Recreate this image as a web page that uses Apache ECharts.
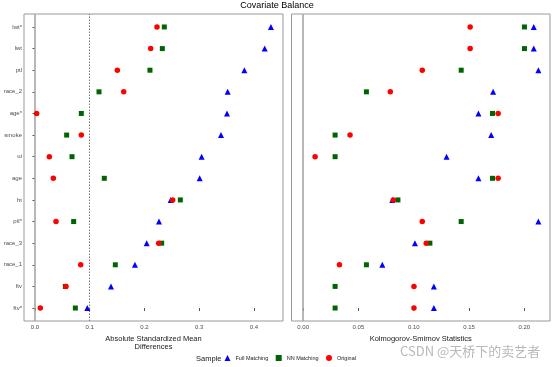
<!DOCTYPE html>
<html><head><meta charset="utf-8">
<script src="https://cdn.jsdelivr.net/npm/echarts@6/dist/echarts.min.js"></script>
<style>html,body{margin:0;padding:0;background:#fff}#c{width:554px;height:367px}</style>
</head><body><div id="c"></div>
<script>
// categories, top to bottom
const categories = ["lwt*","lwt","ptl","race_2","age*","smoke","ui","age","ht","ptl*","race_3","race_1","ftv","ftv*"];
// Absolute Standardized Mean Differences
const smdFull = [0.431,0.4195,0.3824,0.352,0.3507,0.3397,0.3044,0.3008,0.2478,0.2265,0.204,0.1826,0.1388,0.0956];
const smdNN   = [0.2362,0.2326,0.210,0.1169,0.0846,0.0578,0.0676,0.1266,0.2655,0.0706,0.2314,0.1467,0.0554,0.0737];
const smdOrig = [0.2228,0.2113,0.1504,0.162,0.003,0.0846,0.0262,0.0335,0.2515,0.0384,0.2259,0.0834,0.0566,0.0097];
// Kolmogorov-Smirnov statistics
const ksFull = [0.2085,0.2085,0.2127,0.1718,0.1585,0.170,0.1297,0.1585,0.0806,0.2127,0.1011,0.0716,0.1182,0.1182];
const ksNN   = [0.2001,0.2001,0.1429,0.0572,0.1712,0.0289,0.0289,0.1712,0.0857,0.1429,0.1146,0.0572,0.0289,0.0289];
const ksOrig = [0.151,0.151,0.1077,0.0788,0.1763,0.0424,0.0108,0.1763,0.0815,0.1077,0.1113,0.0328,0.1002,0.1002];
const smdTicks = [0, 0.1, 0.2, 0.3, 0.4];
const ksTicks = [0, 0.05, 0.10, 0.15, 0.20];
const seriesNames = ["Full Matching","NN Matching","Original"];

const n = categories.length;
const pos = categories.map((c,i)=>n-1-i);
const toPts = arr => arr.map((v,i)=>[v,pos[i]]);

const chart = echarts.init(document.getElementById('c'));
const gray = '#4d4d4d';
function xAx(idx,min,max,ticks,dec,name){
  return {type:'value',gridIndex:idx,min:min,max:max,
    axisLine:{show:false},splitLine:{show:false},
    axisTick:{show:true,customValues:ticks,length:3,lineStyle:{color:'#555',width:1}},
    axisLabel:{customValues:ticks,formatter:v=>v.toFixed(dec),fontSize:6,color:gray,margin:3,fontFamily:'Liberation Sans'},
    name:name,nameLocation:'middle',nameGap:9,
    nameTextStyle:{fontSize:7.5,color:'#1a1a1a',fontFamily:'Liberation Sans',lineHeight:8,verticalAlign:'top'}};
}
function yAx(idx,labels){
  return {type:'value',gridIndex:idx,min:-0.6,max:n-1+0.6,
    axisLine:{show:false},splitLine:{show:false},
    axisTick:{show:labels,customValues:pos,length:2.5,lineStyle:{color:'#555'}},
    axisLabel:{show:labels,customValues:pos,formatter:v=>categories[n-1-Math.round(v)],fontSize:6,color:gray,margin:2,fontFamily:'Liberation Sans'}};
}
const styles = [
  {symbol:'triangle',symbolSize:6,color:'#0000ff'},
  {symbol:'rect',symbolSize:5,color:'#006400'},
  {symbol:'circle',symbolSize:5.5,color:'#ff0000'}
];
function sc(name,data,idx,st,mark){
  const s = {name:name,type:'scatter',xAxisIndex:idx,yAxisIndex:idx,data:toPts(data),
    symbol:st.symbol,symbolSize:st.symbolSize,itemStyle:{color:st.color,opacity:1},z:5,animation:false};
  if(mark) s.markLine = mark;
  return s;
}
const mlLeft = {silent:true,symbol:'none',label:{show:false},animation:false,
  data:[{xAxis:0,lineStyle:{color:'#a6a6a6',width:1.6,type:'solid'}},
        {xAxis:0.1,lineStyle:{color:'#777',width:1,type:[1.5,1.5]}}]};
const mlRight = {silent:true,symbol:'none',label:{show:false},animation:false,
  data:[{xAxis:0,lineStyle:{color:'#a6a6a6',width:1.6,type:'solid'}}]};

chart.setOption({
  backgroundColor:'#fff',
  animation:false,
  title:{text:'Covariate Balance',left:'center',top:1,padding:0,textStyle:{fontSize:9,fontWeight:'normal',color:'#000',fontFamily:'Liberation Sans'}},
  grid:[
    {left:24,top:14,width:259,height:307,show:true,borderColor:'#999',borderWidth:1,backgroundColor:'transparent'},
    {left:291.5,top:14,width:258.5,height:307,show:true,borderColor:'#999',borderWidth:1,backgroundColor:'transparent'}
  ],
  xAxis:[xAx(0,-0.0201,0.453,smdTicks,1,'Absolute Standardized Mean\nDifferences'),
         xAx(1,-0.01053,0.2232,ksTicks,2,'Kolmogorov-Smirnov Statistics')],
  yAxis:[yAx(0,true),yAx(1,false)],
  legend:{top:355,left:224.5,padding:0,itemGap:7.5,itemWidth:6,itemHeight:6,
    data:seriesNames,
    textStyle:{fontSize:5.5,color:'#1a1a1a',fontFamily:'Liberation Sans'}},
  graphic:[
    {type:'text',left:196,top:354.5,style:{text:'Sample',fontSize:7.5,fill:'#1a1a1a',fontFamily:'Liberation Sans'}},
    {type:'text',left:400,top:345,style:{text:'CSDN @天桥下的卖艺者',fontSize:13,fill:'rgba(160,160,160,0.75)',fontFamily:'Noto Sans CJK SC'}}
  ],
  series:[
    sc(seriesNames[0],smdFull,0,styles[0],mlLeft),
    sc(seriesNames[1],smdNN,0,styles[1]),
    sc(seriesNames[2],smdOrig,0,styles[2]),
    sc(seriesNames[0],ksFull,1,styles[0],mlRight),
    sc(seriesNames[1],ksNN,1,styles[1]),
    sc(seriesNames[2],ksOrig,1,styles[2])
  ]
});
</script></body></html>
